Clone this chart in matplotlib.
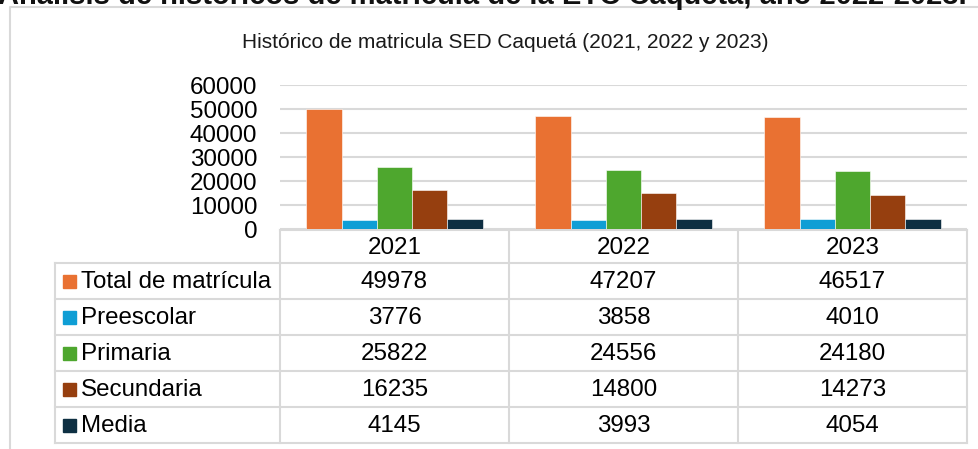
import matplotlib.pyplot as plt
import numpy as np
from matplotlib.patches import Rectangle

plt.rcParams['font.family'] = ['Liberation Sans', 'DejaVu Sans']

years = ['2021', '2022', '2023']
series = ['Total de matrícula', 'Preescolar', 'Primaria', 'Secundaria', 'Media']
total = [49978, 47207, 46517]
preescolar = [3776, 3858, 4010]
primaria = [25822, 24556, 24180]
secundaria = [16235, 14800, 14273]
media = [4145, 3993, 4054]
colors = ['#E97132', '#0F9ED5', '#4EA72E', '#963F0F', '#0E2F42']
title = 'Histórico de matricula SED Caquetá (2021, 2022 y 2023)'
heading = 'Análisis de históricos de matrícula de la ETC Caquetá, año 2022-2023.'

W, H = 979, 449
grid_c = '#D9D9D9'
fs = 17.4

def main():
    values = [total, preescolar, primaria, secundaria, media]
    fig = plt.figure(figsize=(W/100, H/100), dpi=100)
    bg = fig.add_axes([0, 0, 1, 1]); bg.set_xlim(0, W); bg.set_ylim(H, 0); bg.axis('off')
    # chart frame and heading (cut by the top edge, as in the source page)
    bg.plot([10, 10, W], [H, 7, 7], color=grid_c, lw=1.5)
    bg.text(-2, 4, heading, fontsize=21, fontweight='bold', ha='left', va='baseline', color='#111111')
    bg.text(505, 43, title, fontsize=15, ha='center', va='center', color='#1a1a1a')

    # bar plot area (pixel box)
    x0, x1, ytop, ybot = 280, 967, 85, 229
    ax = fig.add_axes([x0/W, (H-ybot)/H, (x1-x0)/W, (ybot-ytop)/H])
    n = len(series); bw = 0.154
    x = np.arange(len(years))
    for i, (vals, c) in enumerate(zip(values, colors)):
        ax.bar(x + (i-(n-1)/2)*bw, vals, width=bw, color=c, edgecolor='white', linewidth=0.4, zorder=3)
    ax.set_xlim(-0.5, len(years)-0.5); ax.set_ylim(0, 60000)
    ax.set_yticks(range(0, 60001, 10000))
    ax.tick_params(axis='y', length=0, pad=16.5, labelsize=fs)
    ax.set_xticks([])
    ax.grid(axis='y', color=grid_c, lw=1.5, zorder=0)
    for s in ax.spines.values(): s.set_visible(False)
    ax.patch.set_alpha(0)

    # data table below the axis
    col_x = [280, 509, 738, 967]; lab_x = 55
    hdr_top, hdr_bot, rh = 230, 263, 36
    row_y = [hdr_bot + k*rh for k in range(n+1)]
    lw = 1.5
    bg.plot([col_x[0], col_x[-1]], [hdr_top, hdr_top], color=grid_c, lw=lw)
    for cx in col_x:
        bg.plot([cx, cx], [hdr_top, row_y[-1]], color=grid_c, lw=lw)
    bg.plot([lab_x, lab_x], [hdr_bot, row_y[-1]], color=grid_c, lw=lw)
    for ry in row_y:
        bg.plot([lab_x, col_x[-1]], [ry, ry], color=grid_c, lw=lw)
    for j, yr in enumerate(years):
        bg.text((col_x[j]+col_x[j+1])/2, (hdr_top+hdr_bot)/2+1, yr, fontsize=fs, ha='center', va='center')
    for i, (name, vals, c) in enumerate(zip(series, values, colors)):
        cy = (row_y[i]+row_y[i+1])/2
        bg.add_patch(Rectangle((63, cy-6.5), 13, 13, color=c))
        bg.text(81, cy+1, name, fontsize=fs, ha='left', va='center')
        for j, v in enumerate(vals):
            bg.text((col_x[j]+col_x[j+1])/2, cy+1, str(v), fontsize=fs, ha='center', va='center')

    fig.savefig('out.png', dpi=100)

if __name__ == '__main__': main()
